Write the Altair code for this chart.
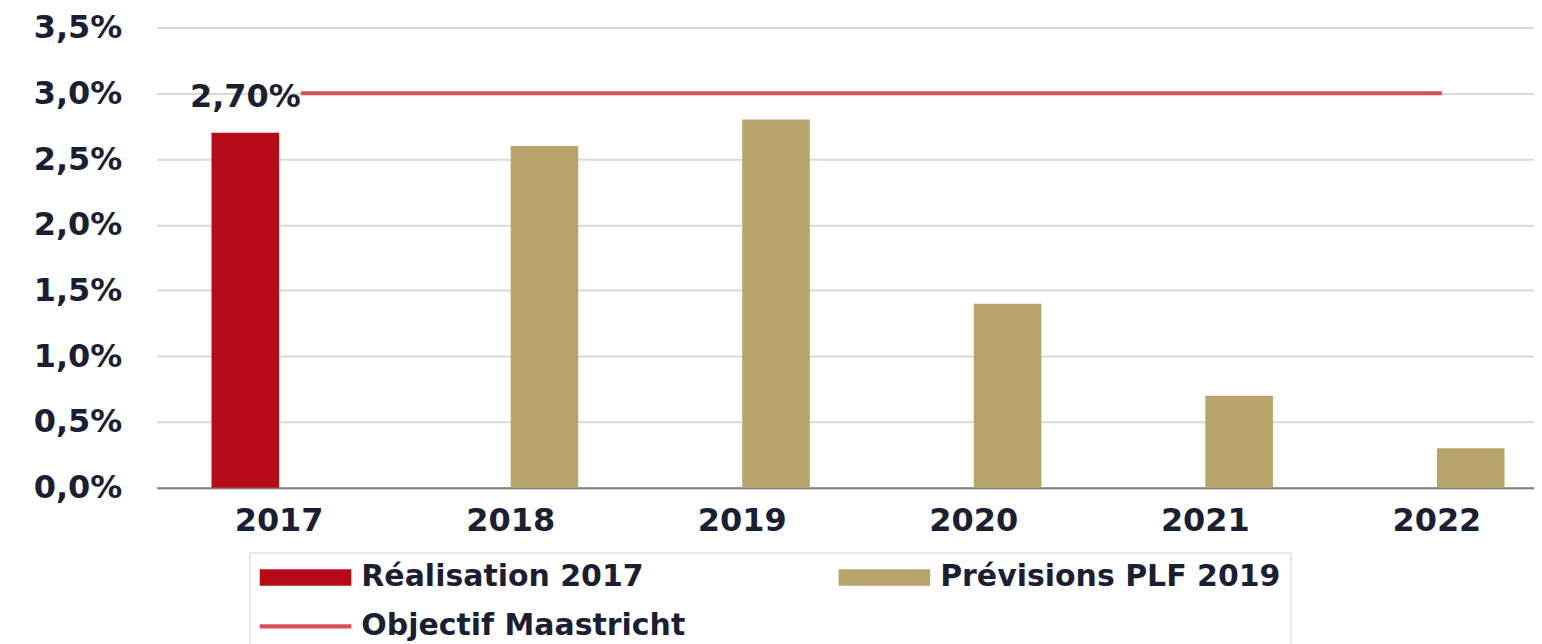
import altair as alt
import pandas as pd

years = ["2017", "2018", "2019", "2020", "2021", "2022"]
series = ["Réalisation 2017", "Prévisions PLF 2019", "Prévisions PLF 2019",
          "Prévisions PLF 2019", "Prévisions PLF 2019", "Prévisions PLF 2019"]
values = [2.7, 2.6, 2.8, 1.4, 0.7, 0.3]
legend_items = ["Réalisation 2017", "Prévisions PLF 2019", "Objectif Maastricht"]
colors = ["#b50b18", "#b6a46b", "#d9505a"]
legend_shapes = ["M-1,-0.18H1V0.18H-1Z", "M-1,-0.18H1V0.18H-1Z", "M-1,-0.045H1V0.045H-1Z"]
target_label = "Objectif Maastricht"
target_value = 3.0
y_ticks = [0, 0.5, 1.0, 1.5, 2.0, 2.5, 3.0, 3.5]
offset_domain = ["Réalisation 2017", "Prévisions PLF 2019"]

FONT = "DejaVu Sans"
TXT = "#1b1f33"

df = pd.DataFrame({"year": years, "series": series, "value": values})
df["label"] = [f"{v:.2f}".replace(".", ",") + "%" for v in values]
rule_df = pd.DataFrame({"start": [years[0]], "end": [years[-1]], "value": [target_value], "series": [target_label]})
leg_df = pd.DataFrame({"series": legend_items})

x_scale = alt.Scale(domain=years, paddingInner=0.416, paddingOuter=0.182, align=0.65)
off_scale = alt.Scale(domain=offset_domain)
y_scale = alt.Scale(domain=[0, 3.5], nice=False)
color_scale = alt.Scale(domain=legend_items, range=colors)
shape_scale = alt.Scale(domain=legend_items, range=legend_shapes)

x_axis = alt.Axis(title=None, labelAngle=0, ticks=False, tickSize=0, grid=False,
                  domainColor="#808080", domainWidth=2, labelPadding=33, labelBaseline="middle",
                  labelFont=FONT, labelFontSize=32, labelFontWeight="bold", labelColor=TXT)
y_axis = alt.Axis(title=None, values=y_ticks, domain=False, ticks=False, tickSize=0,
                  gridColor="#d9d9d9", gridWidth=2, labelPadding=35,
                  labelExpr="replace(format(datum.value, '.1f'), '.', ',') + '%'",
                  labelFont=FONT, labelFontSize=32, labelFontWeight="bold", labelColor=TXT)

legend = alt.Legend(
    title=None, orient="none", legendX=93, legendY=526, direction="horizontal", columns=2,
    columnPadding=153, rowPadding=19, padding=10, strokeColor="#d0d0d0",
    labelFont=FONT, labelFontSize=30, labelFontWeight="bold", labelColor=TXT, labelOffset=10,
    labelLimit=800, symbolSize=8464, symbolStrokeWidth=0,
    symbolOpacity=1, clipHeight=30,
)

bars = alt.Chart(df).mark_bar().encode(
    x=alt.X("year:N", scale=x_scale, axis=x_axis),
    xOffset=alt.XOffset("series:N", scale=off_scale),
    y=alt.Y("value:Q", scale=y_scale, axis=y_axis),
    color=alt.Color("series:N", scale=color_scale, legend=legend),
)

legend_pts = alt.Chart(leg_df).mark_point(filled=True, opacity=0, size=0).encode(
    color=alt.Color("series:N", scale=color_scale, legend=legend),
    shape=alt.Shape("series:N", scale=shape_scale, legend=legend),
)

rule = alt.Chart(rule_df).mark_rule(color=colors[2], strokeWidth=4, xOffset=22, x2Offset=5).encode(
    x=alt.X("start:N", scale=x_scale),
    x2="end:N",
    y=alt.Y("value:Q", scale=y_scale),
)

text = alt.Chart(df[df["series"] == offset_domain[0]]).mark_text(
    font=FONT, fontSize=32, fontWeight="bold", color=TXT, baseline="middle", dy=-36
).encode(
    x=alt.X("year:N", scale=x_scale),
    xOffset=alt.XOffset("series:N", scale=off_scale),
    y=alt.Y("value:Q", scale=y_scale),
    text="label:N",
)

chart = alt.layer(bars, rule, text, legend_pts).properties(
    width=1380, height=461,
    padding={"left": 25, "top": 3, "right": 0, "bottom": 0},
).configure_view(stroke=None)

chart.save("out.html", embed_options={"renderer": "svg", "actions": False})
